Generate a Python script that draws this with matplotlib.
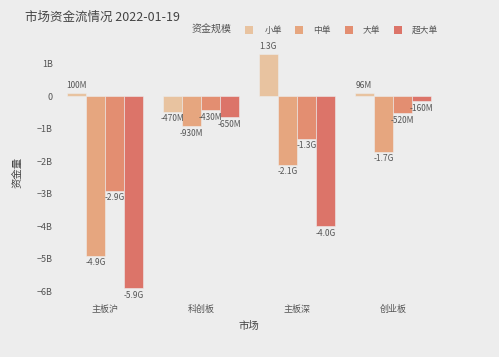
import matplotlib
matplotlib.use("Agg")
import matplotlib.pyplot as plt
from matplotlib.patches import Rectangle
import numpy as np

plt.rcParams['font.family'] = ['Noto Sans CJK SC', 'DejaVu Sans']

markets = ['主板沪', '科创板', '主板深', '创业板']
sizes = ['小单', '中单', '大单', '超大单']
values = {
    '小单': [0.10, -0.47, 1.3, 0.096],
    '中单': [-4.9, -0.93, -2.1, -1.7],
    '大单': [-2.9, -0.43, -1.3, -0.52],
    '超大单': [-5.9, -0.65, -4.0, -0.16],
}
labels = {
    '小单': ['100M', '-470M', '1.3G', '96M'],
    '中单': ['-4.9G', '-930M', '-2.1G', '-1.7G'],
    '大单': ['-2.9G', '-430M', '-1.3G', '-520M'],
    '超大单': ['-5.9G', '-650M', '-4.0G', '-160M'],
}
colors = ['#e8c3a0', '#e6a67f', '#e38e71', '#dc7469']
yticks = [1, 0, -1, -2, -3, -4, -5, -6]
yticklabels = ['1B', '0', '\u22121B', '\u22122B', '\u22123B', '\u22124B', '\u22125B', '\u22126B']

bg = '#ededed'
W, H = 499, 357
fig = plt.figure(figsize=(W / 100, H / 100), dpi=100, facecolor=bg)
ax = fig.add_axes([57 / W, 1 - 301 / H, (441 - 57) / W, (301 - 41) / H])
ax.set_facecolor(bg)

x = np.arange(len(markets))
bw = 0.8 / len(sizes)
txt_col = '#555555'
for i, s in enumerate(sizes):
    xs = x + (i - 1.5) * bw
    vals = values[s]
    ax.bar(xs, vals, width=bw, color=colors[i], edgecolor=bg, linewidth=0.4, zorder=2)
    for xi, v, lab in zip(xs, vals, labels[s]):
        if v >= 0:
            ax.annotate(lab, (xi, v), xytext=(0, 2), textcoords='offset points',
                        ha='center', va='bottom', fontsize=6, color=txt_col)
        else:
            ax.annotate(lab, (xi, v), xytext=(0, -2), textcoords='offset points',
                        ha='center', va='top', fontsize=6, color=txt_col)

ax.set_xlim(-0.5, len(markets) - 0.5)
ax.set_ylim(-6.3, 1.7)
ax.set_xticks(x)
ax.set_xticklabels(markets, fontsize=6.5, color=txt_col)
ax.set_yticks(yticks)
ax.set_yticklabels(yticklabels, fontsize=6.5, color=txt_col)
ax.tick_params(axis='both', length=0, pad=3)
for sp in ax.spines.values():
    sp.set_visible(False)

fig.text(18 / W, 1 - 172 / H, '资金量', rotation=90, ha='center', va='center',
         fontsize=7.5, color='#444444')
fig.text(249 / W, 1 - 326 / H, '市场', ha='center', va='center',
         fontsize=7.5, color='#444444')
fig.text(25 / W, 1 - 17 / H, '市场资金流情况 2022-01-19', ha='left', va='center',
         fontsize=9, color='#444444')

# legend
fig.text(192 / W, 1 - 30 / H, '资金规模', ha='left', va='center', fontsize=7.2, color='#555555')
sw_x = [245, 295, 345, 394]
tx_x = [265, 313, 363, 412]
for i, s in enumerate(sizes):
    fig.patches.append(Rectangle((sw_x[i] / W, 1 - 34 / H), 8 / W, 8 / H,
                                 transform=fig.transFigure, facecolor=colors[i],
                                 edgecolor='none'))
    fig.text(tx_x[i] / W, 1 - 30 / H, s, ha='left', va='center', fontsize=6.3, color='#555555')

fig.savefig('out.png', dpi=100, facecolor=bg)
